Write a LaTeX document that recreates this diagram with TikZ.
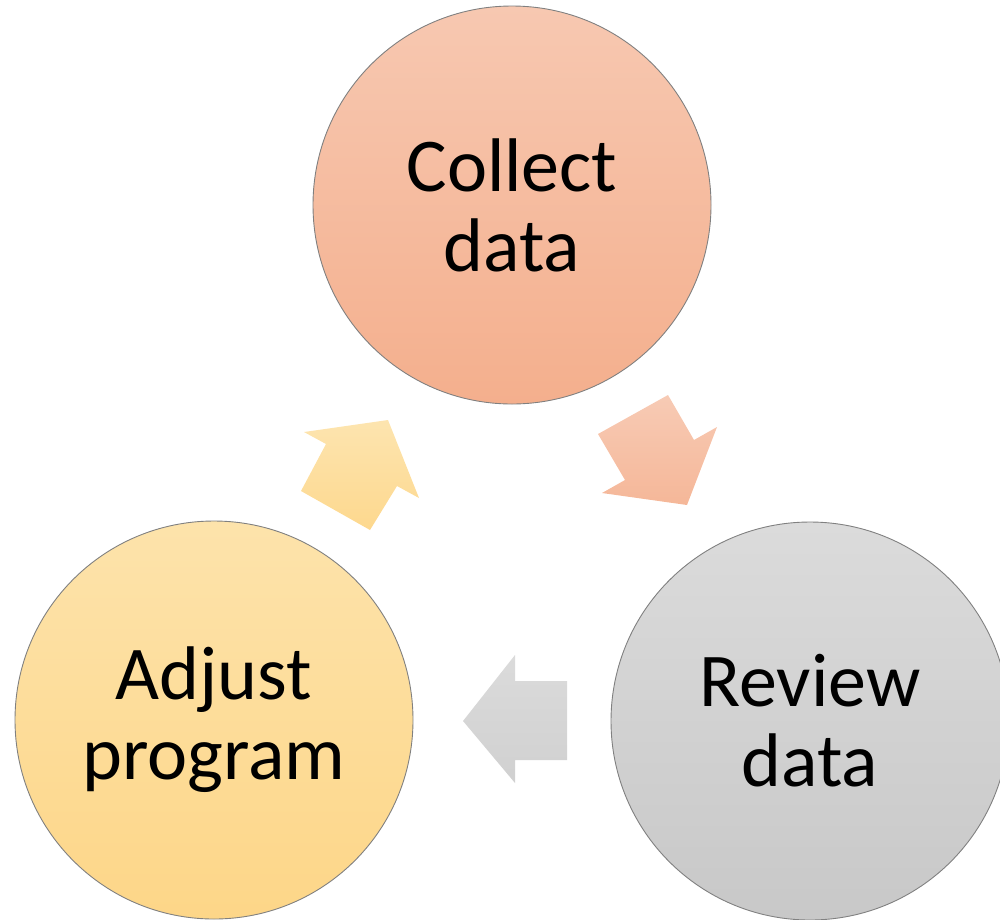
\documentclass[tikz,border=0pt]{standalone}
\usepackage{fontspec}
\setmainfont{Carlito}
\begin{document}
\begin{tikzpicture}[x=1pt,y=-1pt,
  stage/.style={circle, draw=black!50, line width=0.9pt, minimum size=398pt,
    inner sep=0pt, align=center, font=\fontsize{76}{80}\selectfont},
  peach/.style={top color=peachTop, bottom color=peachBot},
  sand/.style={top color=sandTop, bottom color=sandBot},
  grey/.style={top color=greyTop, bottom color=greyBot}]
\definecolor{peachTop}{HTML}{F7C8B1}
\definecolor{peachBot}{HTML}{F4AF8D}
\definecolor{sandTop}{HTML}{FDE3AB}
\definecolor{sandBot}{HTML}{FDD688}
\definecolor{greyTop}{HTML}{DBDBDB}
\definecolor{greyBot}{HTML}{C8C8C8}
\useasboundingbox (0,0) rectangle (1000,919);
\begin{scope}
\clip (0,0) rectangle (1000,919);
% the three stages of the cycle
\node[stage, peach] (collect) at (512,205) {Collect\\data};
\node[stage, grey]  (review)  at (810,721) {Review\\data};
\node[stage, sand]  (adjust)  at (214,720) {Adjust\\program};
\end{scope}
% block arrows between the stages
\shade[top color=peachTop!95, bottom color=peachBot!90]
  (598,434) -- (668,395) -- (694,440) -- (717,427) -- (687,505)
  -- (602,493) -- (625,480) -- cycle;
\shade[top color=greyTop, bottom color=greyBot!85]
  (567,681) -- (515,681) -- (515,655) -- (463,721) -- (515,783)
  -- (515,760) -- (567,760) -- cycle;
\shade[top color=sandTop!95, bottom color=sandBot!95]
  (304,432) -- (388,420) -- (419,498) -- (397,486) -- (370,530)
  -- (301,491) -- (326,444) -- cycle;
\end{tikzpicture}
\end{document}
